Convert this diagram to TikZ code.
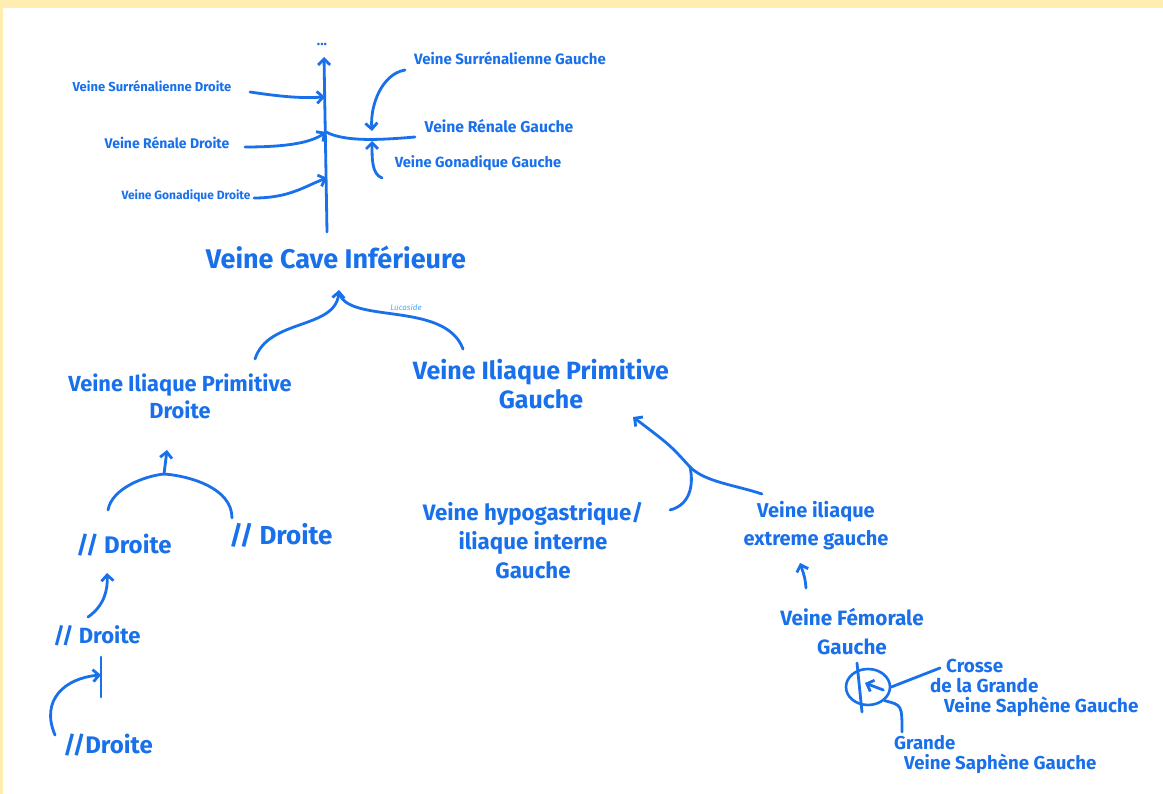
\documentclass[tikz,border=0pt]{standalone}
\usepackage{fontspec}
\setmainfont{Fira Sans}
\usetikzlibrary{arrows.meta,shapes.geometric}
\definecolor{ink}{RGB}{25,112,235}
\definecolor{pale}{RGB}{255,238,175}
\definecolor{sig}{RGB}{70,175,245}
\newcommand{\fsz}[2]{\bfseries\fontsize{#1}{#2}\selectfont}
\begin{document}
\begin{tikzpicture}[x=1pt,y=-1pt,
  lab/.style={text=ink, inner sep=1pt, align=center},
  vein/.style={draw=ink, line width=2.8pt, line cap=round, line join=round},
  flow/.style={vein, -{Straight Barb[length=6pt,width=12pt]}}
]
\fill[white] (0,0) rectangle (1163,794);
\fill[pale] (0,0) rectangle (1163,8);
\fill[pale] (0,0) rectangle (3,794);
\useasboundingbox (0,0) rectangle (1163,794);

% ---------- inferior vena cava and its tributaries ----------
\node[lab, font=\fsz{14}{16}] (dots) at (322,44) {...};
\coordinate (ivcB) at (327,232);
\coordinate (ivcT) at (324,57);
\coordinate (jSD) at (325,97);
\coordinate (jR)  at (326,132);
\coordinate (jGD) at (327,178);
\coordinate (jSG) at (372,131);
\coordinate (jGG) at (372,141);
\draw[flow] (ivcB) -- (ivcT);

\node[lab, font=\fsz{13}{15}] (sd) at (152,86) {Veine Surrénalienne Droite};
\node[lab, font=\fsz{14}{16}] (rd) at (167,143) {Veine Rénale Droite};
\node[lab, font=\fsz{12}{14}] (gd) at (186,196) {Veine Gonadique Droite};
\node[lab, font=\fsz{15}{17}] (sg) at (510,58) {Veine Surrénalienne Gauche};
\node[lab, font=\fsz{15.7}{18}] (rg) at (499,126) {Veine Rénale Gauche};
\node[lab, font=\fsz{14.7}{17}] (gg) at (478,163) {Veine Gonadique Gauche};

\draw[flow] ([xshift=98pt,yshift=-6pt]sd.center) .. controls (290,98) and (305,98) .. (jSD);
\draw[flow] ([xshift=78pt,yshift=-4pt]rd.center) .. controls (290,147) and (312,142) .. (jR);
\draw[flow] ([xshift=68pt,yshift=-2pt]gd.center) .. controls (290,198) and (305,186) .. (jGD);
\draw[flow] ([xshift=-105pt,yshift=-12pt]sg.center) .. controls (382,74) and (370,105) .. (jSG);
\draw[vein] ([xshift=-84pt,yshift=-11pt]rg.center) .. controls (380,140) and (345,142) .. (jR);
\draw[flow] ([xshift=-96pt,yshift=-15pt]gg.center) .. controls (372,174) and (372,160) .. (jGG);

\node[lab, font=\fsz{27}{30}] (vci) at (336,257) {Veine Cave Inférieure};

% ---------- common iliac veins ----------
\node[lab, font=\fsz{21.8}{27}] (ipd) at (180,396) {Veine Iliaque Primitive\\Droite};
\node[lab, font=\fsz{25}{29}] (ipg) at (541,384) {Veine Iliaque Primitive\\Gauche};
\node[lab, text=sig, font=\itshape\fontsize{8}{9}\selectfont] (sgn) at (406,307) {Lucaside};
\coordinate (cTip) at (339,290);
\draw[flow] ([xshift=75pt,yshift=37pt]ipd.center) .. controls (268,318) and (336,330) .. (cTip);
\draw[vein] ([xshift=-78pt,yshift=35pt]ipg.center) .. controls (445,300) and (346,325) .. ([yshift=-2pt]cTip);

% ---------- right side (left of picture) ----------
\node[lab, font=\fsz{24}{26}] (d1) at (124,545) {// Droite};
\node[lab, font=\fsz{26}{28}] (d2) at (281,535) {// Droite};
\node[lab, font=\fsz{22}{24}] (d3) at (97,636) {// Droite};
\node[lab, font=\fsz{24}{26}] (d4) at (108,745) {//Droite};

\coordinate (j1) at (164,474);
\coordinate (t1) at (167,450);
\draw[vein] ([xshift=-16pt,yshift=35pt]d1.center) .. controls (112,488) and (145,476) .. (j1);
\draw[vein] ([xshift=-49pt,yshift=17pt]d2.center) .. controls (232,488) and (190,476) .. (j1);
\draw[flow] (j1) -- (t1);

\draw[flow] ([xshift=-9pt,yshift=19pt]d3.center) .. controls (104,606) and (108,590) .. ([xshift=-17pt,yshift=-28pt]d1.center);
\coordinate (tk1) at (101,657);
\coordinate (tk2) at (101,697);
\draw[vein] (tk1) -- (tk2);
\draw[flow] ([xshift=-53pt,yshift=10pt]d4.center) .. controls (40,700) and (65,678) .. (101,675);

% ---------- left side (right of picture) ----------
\node[lab, font=\fsz{22.3}{29}] (hyp) at (533,541) {Veine hypogastrique/\\iliaque interne\\Gauche};
\node[lab, font=\fsz{20}{28}] (ext) at (816,526) {Veine iliaque\\extreme gauche};
\coordinate (j2) at (690,467);
\coordinate (t2) at (633,417);
\draw[vein] ([xshift=137pt,yshift=31pt]hyp.center) .. controls (690,505) and (694,485) .. (j2);
\draw[vein] ([xshift=-54pt,yshift=32pt]ext.center) .. controls (735,485) and (705,482) .. (j2);
\draw[flow] (j2) .. controls (670,445) .. (t2);

\node[lab, font=\fsz{20.7}{29}] (fem) at (852,632) {Veine Fémorale\\Gauche};
\draw[flow] ([xshift=-46pt,yshift=44pt]fem.center) .. controls (805,578) .. ([xshift=-16pt,yshift=-37pt]ext.center);

\node[draw=ink, line width=2.6pt, ellipse, minimum width=44pt, minimum height=36pt, inner sep=0pt] (cr) at (868,687) {};
\coordinate (v1) at (857,663);
\coordinate (v2) at (862,712);
\draw[vein] (v1) -- (v2);
\draw[flow] ([xshift=-8pt,yshift=-3pt]cr.east) -- ([xshift=-3pt,yshift=4pt]cr.center);

\node[lab, align=left, anchor=west, font=\fsz{18.8}{20}] (crs) at (929,688) {\hspace*{16pt}Crosse\\de la Grande\\\hspace*{14pt}Veine Saphène Gauche};
\node[lab, align=left, anchor=west, font=\fsz{18.6}{20}] (gvs) at (893,755) {Grande\\\hspace*{10pt}Veine Saphène Gauche};
\draw[vein] (cr.east) -- ([xshift=11pt,yshift=20pt]crs.west);
\draw[vein] (cr.south east) .. controls (902,705) .. ([xshift=9pt,yshift=23pt]gvs.west);
\end{tikzpicture}
\end{document}
